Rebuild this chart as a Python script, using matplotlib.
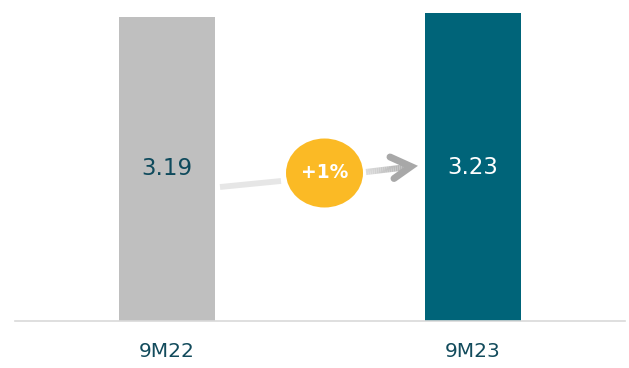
import matplotlib
matplotlib.use("Agg")
import matplotlib.pyplot as plt
from matplotlib.patches import Ellipse
import numpy as np

categories = ["9M22", "9M23"]
values = [3.19, 3.23]
value_labels = ["3.19", "3.23"]
change_label = "+1%"

bar_colors = ["#bfbfbf", "#006479"]
value_text_colors = ["#0f4a5c", "#ffffff"]
label_color = "#124b5c"

fig = plt.figure(figsize=(6.29, 3.68), dpi=100)
ax = fig.add_axes([15 / 629, 47 / 368, 610 / 629, 321 / 368])

x = np.arange(len(categories))
ax.bar(x, values, width=96 / 306, color=bar_colors, zorder=2)
ax.set_xlim(-152 / 306, 1 + 152 / 306)
ax.set_ylim(0, 321 / 95.3)

for xi, v, lab, c in zip(x, values, value_labels, value_text_colors):
    ax.text(xi, v / 2, lab, ha="center", va="center", fontsize=16.5, color=c, zorder=3)

ax.set_xticks(x)
ax.set_xticklabels(categories, fontsize=14.5, color=label_color)
ax.tick_params(axis="x", length=0, pad=15)
ax.set_yticks([])
for s in ["top", "left", "right"]:
    ax.spines[s].set_visible(False)
ax.spines["bottom"].set_color("#d9d9d9")
ax.spines["bottom"].set_linewidth(1.2)

# helper: pixel -> data
def px(xp, yp):
    return (xp - 167) / 306, (321 - yp) / 95.3

# left faint connector
(x0, y0), (x1, y1) = px(220, 187), px(281, 181)
ax.plot([x0, x1], [y0, y1], color="#e6e6e6", lw=4.2, solid_capstyle="butt", zorder=3)

# right gradient arrow shaft
(a0, b0), (a1, b1) = px(366, 172), px(408, 167)
n = 20
ts = np.linspace(0, 1, n + 1)
for i in range(n):
    g = 0.86 - 0.2 * ts[i]
    ax.plot([a0 + (a1 - a0) * ts[i], a0 + (a1 - a0) * ts[i + 1]],
            [b0 + (b1 - b0) * ts[i], b0 + (b1 - b0) * ts[i + 1]],
            color=(g, g, g), lw=4.4, solid_capstyle="butt", zorder=3)
# chevron head
tip = px(411, 166.5)
top = px(390, 157)
bot = px(394, 178.5)
ax.plot([top[0], tip[0], bot[0]], [top[1], tip[1], bot[1]], color="#a8a8a8",
        lw=5, solid_capstyle="round", solid_joinstyle="miter", zorder=3)

# badge
cx, cy = px(324.5, 173)
ell = Ellipse((cx, cy), 77 / 306, 69 / 95.3, facecolor="#fbba25", edgecolor="none", zorder=4)
ax.add_patch(ell)
ax.text(cx, cy, change_label, ha="center", va="center", fontsize=13.5, fontweight="bold",
        color="white", zorder=5)

fig.savefig("out.png", dpi=100)
